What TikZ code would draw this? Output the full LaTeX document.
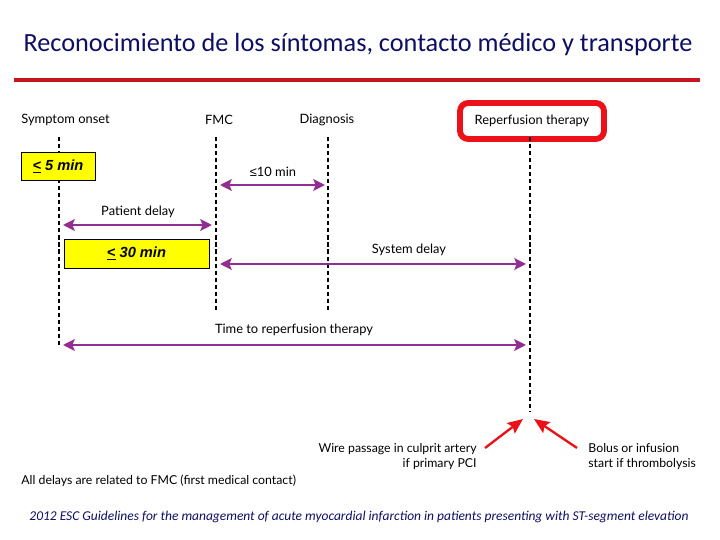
\documentclass[tikz,border=0pt]{standalone}
\usepackage{fontspec}
\setmainfont{Carlito}
\newfontfamily\gillfont{Lato}
\newfontfamily\boxfont{Liberation Sans}
\usetikzlibrary{arrows.meta}
\definecolor{titleColor}{HTML}{0E0E62}
\definecolor{ruleColor}{HTML}{C8141C}
\definecolor{delayColor}{HTML}{922E92}
\definecolor{boxYellow}{HTML}{FFFF00}
\definecolor{markRed}{HTML}{EC1018}

\tikzset{
  timeline/.style={black, line width=1.5pt, dash pattern=on 3.5pt off 2.5pt},
  delay/.style={delayColor, line width=1.7pt,
    {Stealth[width=10pt,length=10pt,inset=2pt]}-{Stealth[width=10pt,length=10pt,inset=2pt]}},
  pointer/.style={markRed, line width=2pt, -{Stealth[width=11pt,length=13pt,inset=2pt]}},
  label/.style={font=\gillfont\fontsize{11}{13}\selectfont, inner sep=1pt},
  small label/.style={font=\gillfont\fontsize{10.5}{12.5}\selectfont, inner sep=1pt},
  limitbox/.style={draw=black, fill=boxYellow, line width=0.8pt, inner sep=0pt,
    font=\boxfont\bfseries\itshape\fontsize{12.5}{14}\selectfont}
}

\begin{document}
\begin{tikzpicture}[x=0.03cm, y=-0.03cm]
    \useasboundingbox (0,0) rectangle (720,540);
    % title and rule
    \node[font=\fontsize{22.4}{26}\selectfont, text=titleColor] (title) at (358,45)
        {Reconocimiento de los síntomas, contacto médico y transporte};
    \coordinate (ruleL) at (14,80);
    \coordinate (ruleR) at (700,80);
    \draw[ruleColor, line width=3.4pt] (ruleL) -- (ruleR);

    % events
    \node[label, anchor=west] (onset) at (20,120) {Symptom onset};
    \node[label] (fmc) at (219,120) {FMC};
    \node[label] (diag) at (327,120) {Diagnosis};
    \node[label, draw=markRed, line width=5pt, rounded corners=7pt,
        minimum width=4.32cm, minimum height=1.08cm] (reperf) at (532,121) {Reperfusion therapy};

    % time lines
    \coordinate (onsetTop) at (59,137);   \coordinate (onsetBot) at (59,345);
    \coordinate (fmcTop) at (216,137);    \coordinate (fmcBot) at (216,312);
    \coordinate (diagTop) at (328,137);   \coordinate (diagBot) at (328,312);
    \coordinate (reperfTop) at (530,137); \coordinate (reperfBot) at (530,412);
    \foreach \t in {onset, fmc, diag, reperf}
        \draw[timeline] (\t Top) -- (\t Bot);

    % delays
    \coordinate (tenL) at (220,185);  \coordinate (tenR) at (325,185);
    \coordinate (patL) at (63,225);   \coordinate (patR) at (212,225);
    \coordinate (sysL) at (220,264);  \coordinate (sysR) at (526,264);
    \coordinate (timeL) at (63,345);  \coordinate (timeR) at (526,345);
    \draw[delay] (tenL) -- (tenR);
    \draw[delay] (patL) -- (patR);
    \draw[delay] (sysL) -- (sysR);
    \draw[delay] (timeL) -- (timeR);
    \node[label] (tenLbl) at (273,172) {{\boxfont ≤}10 min};
    \node[label] (patLbl) at (138,212) {Patient delay};
    \node[label] (sysLbl) at (409,250) {System delay};
    \node[label] (timeLbl) at (294,330) {Time to reperfusion therapy};

    % targets
    \node[limitbox, minimum width=2.22cm, minimum height=0.84cm] (fiveBox) at (58,166)
        {\underline{<} 5 min};
    \node[limitbox, minimum width=4.35cm, minimum height=0.87cm] (thirtyBox) at (136.5,253.5)
        {\underline{<} 30 min};

    % start of reperfusion
    \coordinate (wireTail) at (485,448);  \coordinate (wireTip) at (523,419);
    \coordinate (bolusTail) at (577,448); \coordinate (bolusTip) at (534,419);
    \draw[pointer] (wireTail) -- (wireTip);
    \draw[pointer] (bolusTail) -- (bolusTip);
    \node[small label, anchor=north east, align=right] (wire) at (478,442)
        {Wire passage in culprit artery\\if primary PCI};
    \node[small label, anchor=north west, align=left] (bolus) at (587,442)
        {Bolus or infusion\\start if thrombolysis};

    % notes
    \node[small label, anchor=west] (note) at (20,481) {All delays are related to FMC (first medical contact)};
    \node[font=\itshape\fontsize{11.5}{13}\selectfont, text=titleColor] (source) at (359,517)
        {2012 ESC Guidelines for the management of acute myocardial infarction in patients presenting with ST-segment elevation};
\end{tikzpicture}
\end{document}
